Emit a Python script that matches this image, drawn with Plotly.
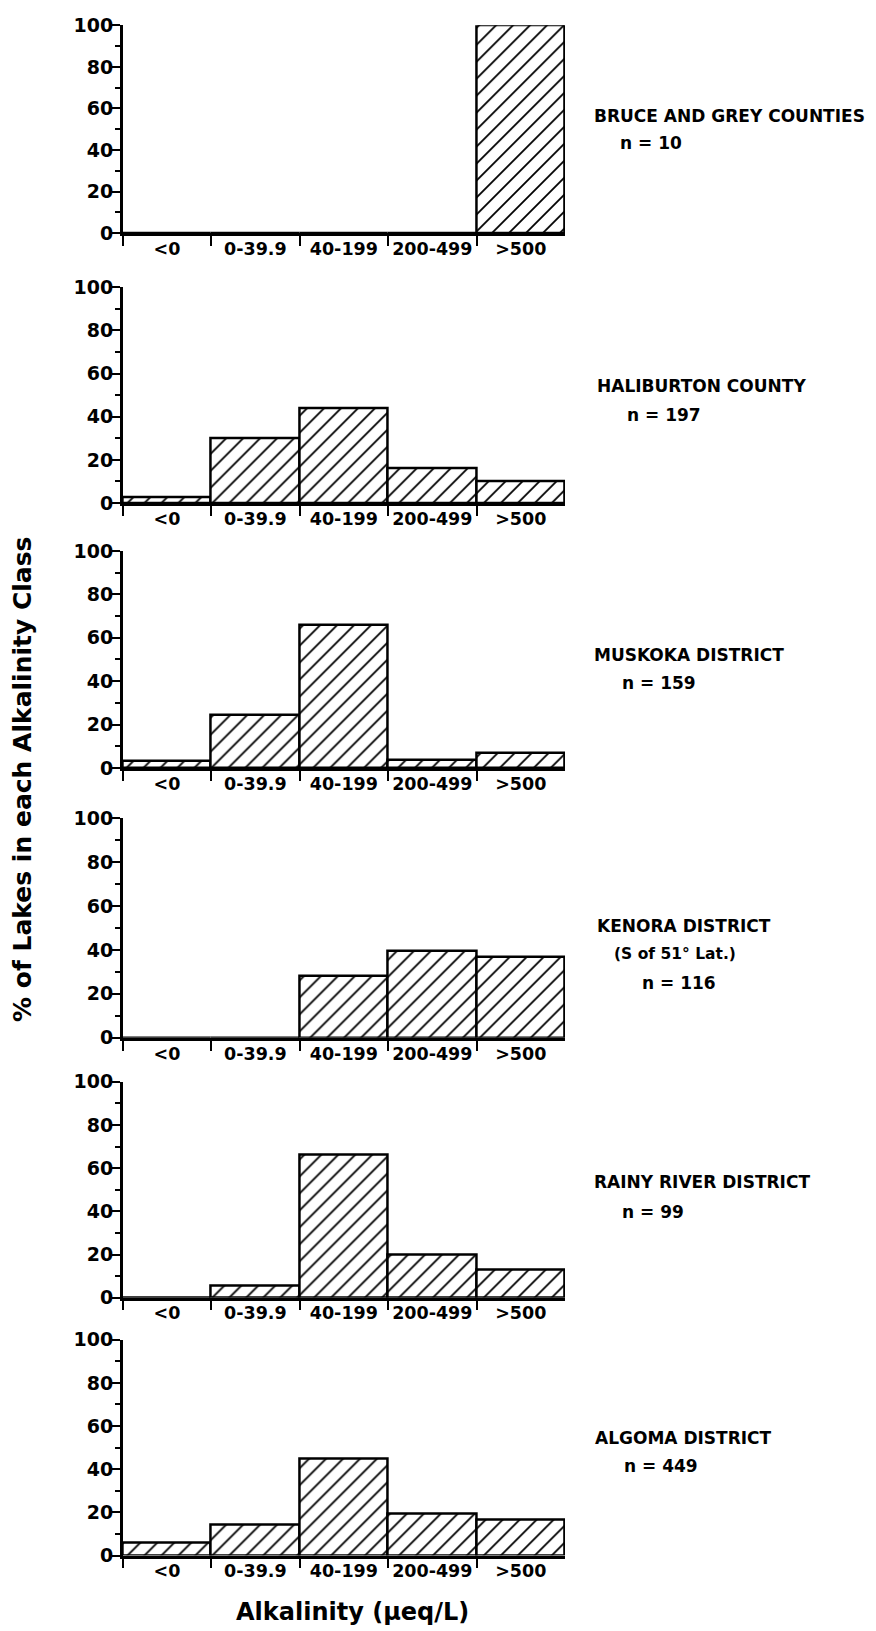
import plotly.graph_objects as go

# Placement on the photographed page (measured): x_pic = x_fig + 8,
# y_pic = 18.7 + 0.987 * y_fig.  Positions below are given in picture pixels.
OFF_X, A_Y, S_Y = 8, 18.7, 0.987
W, H = 860, 1633

categories = ["<0", "0-39.9", "40-199", "200-499", ">500"]

bruce_grey = [0, 0, 0, 0, 100]
haliburton = [2.6, 30, 44, 16, 10.3]
muskoka = [3.4, 24.3, 66, 3.5, 6.9]
kenora = [0, 0, 28.3, 39.4, 36.8]
rainy_river = [0, 5.4, 66, 19.7, 12.8]
algoma = [6.2, 14.2, 44.8, 19.3, 16.7]

series = [bruce_grey, haliburton, muskoka, kenora, rainy_river, algoma]
region_names = ["BRUCE AND GREY COUNTIES", "HALIBURTON COUNTY", "MUSKOKA DISTRICT",
                "KENORA DISTRICT", "RAINY RIVER DISTRICT", "ALGOMA DISTRICT"]
region_sub = [None, None, None, "(S of 51° Lat.)", None, None]
region_n = ["n = 10", "n = 197", "n = 159", "n = 116", "n = 99", "n = 449"]

y_ticks = [0, 20, 40, 60, 80, 100]

# layout in picture pixels
panel_top = [25, 287, 551, 818, 1082, 1340]
panel_bot = [233, 503, 768, 1038, 1298, 1556]
x_left, x_right = 122.7, 565
label_y = [116, 386, 655, 926, 1182, 1438]
label_x = [592, 595, 592, 595, 592, 593]
n_x = [618, 625, 620, 640, 620, 622]
n_gap = [27, 29, 28, 57, 30, 28]


def px(x):
    return (x - OFF_X) / W


def py(y):
    return 1 - ((y - A_Y) / S_Y) / H


FONT = "DejaVu Sans"

fig = go.Figure()
annotations = []
for i, vals in enumerate(series):
    k = "" if i == 0 else str(i + 1)
    fig.add_trace(go.Bar(
        x=categories, y=vals, xaxis="x" + k, yaxis="y" + k,
        marker=dict(color="white", line=dict(color="black", width=2.5),
                    pattern=dict(shape="/", size=12, solidity=0.15,
                                 fgcolor="black", bgcolor="white", fillmode="replace")),
        showlegend=False, hoverinfo="x+y",
    ))
    fig.update_layout(**{
        "xaxis" + k: dict(domain=[px(x_left), px(x_right)], anchor="y" + k,
                          type="category", range=[-0.5, 4.5],
                          showline=True, linecolor="black", linewidth=2.5,
                          ticks="outside", tickson="boundaries", ticklen=10,
                          tickwidth=2, tickcolor="black", tickangle=0,
                          ticklabelstandoff=-2,
                          tickfont=dict(family=FONT, size=17.5, color="black", weight="bold"),
                          showgrid=False, zeroline=False, fixedrange=True),
        "yaxis" + k: dict(domain=[py(panel_bot[i]), py(panel_top[i])], anchor="x" + k,
                          range=[0, 100], tickvals=y_ticks,
                          showline=True, linecolor="black", linewidth=2.5,
                          ticks="outside", ticklen=8, tickwidth=2, tickcolor="black",
                          ticklabelstandoff=-5,
                          minor=dict(dtick=10, tick0=0, ticks="outside", ticklen=5,
                                     tickwidth=2, tickcolor="black"),
                          tickfont=dict(family=FONT, size=19, color="black", weight="bold"),
                          showgrid=False, zeroline=False, fixedrange=True),
    })
    annotations.append(dict(x=px(label_x[i]), y=py(label_y[i]), xref="paper", yref="paper",
                            text=region_names[i], showarrow=False, xanchor="left", yanchor="middle",
                            font=dict(family=FONT, size=17, color="black", weight="bold")))
    if region_sub[i]:
        annotations.append(dict(x=px(612), y=py(label_y[i] + 28), xref="paper", yref="paper",
                                text=region_sub[i], showarrow=False, xanchor="left", yanchor="middle",
                                font=dict(family=FONT, size=15.5, color="black", weight="bold")))
    annotations.append(dict(x=px(n_x[i]), y=py(label_y[i] + n_gap[i]), xref="paper", yref="paper",
                            text=region_n[i], showarrow=False, xanchor="left", yanchor="middle",
                            font=dict(family=FONT, size=17, color="black", weight="bold")))

annotations.append(dict(x=px(23), y=py(780), xref="paper", yref="paper",
                        text="% of Lakes in each Alkalinity Class", textangle=-90,
                        showarrow=False, xanchor="center", yanchor="middle",
                        font=dict(family=FONT, size=25, color="black", weight="bold")))
annotations.append(dict(x=px(352), y=py(1612), xref="paper", yref="paper",
                        text="Alkalinity (µeq/L)", showarrow=False,
                        xanchor="center", yanchor="middle",
                        font=dict(family=FONT, size=24, color="black", weight="bold")))

fig.update_layout(width=W, height=H, margin=dict(l=0, r=0, t=0, b=0),
                  paper_bgcolor="white", plot_bgcolor="white",
                  bargap=0, annotations=annotations)

fig.write_html("out.html")
